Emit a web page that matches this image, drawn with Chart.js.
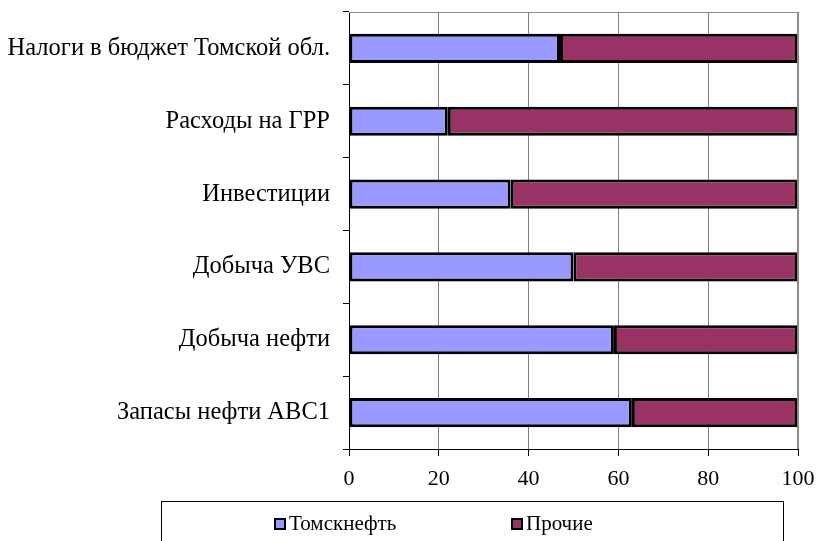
<!DOCTYPE html>
<html>
<head>
<meta charset="utf-8">
<script src="https://cdn.jsdelivr.net/npm/chart.js@4/dist/chart.umd.min.js"></script>
<style>
  html, body { margin: 0; padding: 0; background: #fff; }
  #wrap { width: 819px; height: 541px; }
</style>
</head>
<body>
<div id="wrap"><canvas id="myChart"></canvas></div>
<script>
const categories = [
  'Налоги в бюджет Томской обл.',
  'Расходы на ГРР',
  'Инвестиции',
  'Добыча УВС',
  'Добыча нефти',
  'Запасы нефти АВС1',
];
const tomskneft = [47, 22, 36, 50, 59, 63];
const others = [53, 78, 64, 50, 41, 37];
const seriesNames = ['Томскнефть', 'Прочие'];
const xTicks = [0, 20, 40, 60, 80, 100];

const FONT = "'Liberation Serif', 'Times New Roman', serif";

// frame round the plot area (gray, like the Excel original)
const plotFrame = {
  id: 'plotFrame',
  afterDatasetsDraw(chart) {
    const { ctx, chartArea: { top, bottom, left, right } } = chart;
    ctx.save();
    ctx.strokeStyle = '#8c8c8c';
    ctx.lineWidth = 1;
    ctx.beginPath();
    ctx.moveTo(left, top + 0.5);
    ctx.lineTo(right, top + 0.5);
    ctx.stroke();
    ctx.lineWidth = 2;
    ctx.beginPath();
    ctx.moveTo(right, top);
    ctx.lineTo(right, bottom);
    ctx.stroke();
    ctx.restore();
  },
};

// boxed legend under the chart
const boxLegend = {
  id: 'boxLegend',
  afterDraw(chart) {
    const { ctx } = chart;
    ctx.save();
    ctx.strokeStyle = '#000';
    ctx.lineWidth = 1;
    ctx.strokeRect(161.5, 501.5, 622, 60);
    const itemX = [275, 512];
    ctx.font = '21px ' + FONT;
    ctx.textBaseline = 'middle';
    chart.data.datasets.forEach((ds, i) => {
      const x = itemX[i];
      const y = 524;
      ctx.fillStyle = ds.backgroundColor;
      ctx.fillRect(x, y - 5, 10, 10);
      ctx.lineWidth = 2;
      ctx.strokeRect(x, y - 5, 10, 10);
      ctx.fillStyle = '#000';
      ctx.fillText(ds.label, x + 14, y);
    });
    ctx.restore();
  },
};

const config = {
  type: 'bar',
  data: {
    labels: categories,
    datasets: [
      {
        label: seriesNames[0],
        data: tomskneft,
        backgroundColor: '#9999ff',
        borderColor: '#000',
        borderWidth: 3,
        borderSkipped: false,
      },
      {
        label: seriesNames[1],
        data: others,
        backgroundColor: '#993366',
        borderColor: '#000',
        borderWidth: 3,
        borderSkipped: false,
      },
    ],
  },
  options: {
    indexAxis: 'y',
    responsive: true,
    maintainAspectRatio: false,
    animation: false,
    layout: { padding: { top: 12, right: 21, bottom: 0, left: 0 } },
    datasets: { bar: { categoryPercentage: 1, barPercentage: 0.4 } },
    plugins: {
      legend: { display: false },
      tooltip: { enabled: false },
    },
    scales: {
      x: {
        stacked: true,
        min: 0,
        max: 100,
        afterBuildTicks(scale) {
          scale.ticks = xTicks.map(v => ({ value: v }));
        },
        afterFit(scale) {
          scale.height = 92;
          scale.paddingLeft = 0;
          scale.paddingRight = 0;
        },
        grid: { color: '#808080', lineWidth: 1, tickLength: 7, tickColor: '#000' },
        border: { color: '#000', width: 1 },
        ticks: { color: '#000', padding: 10, font: { family: FONT, size: 22 } },
      },
      y: {
        stacked: true,
        afterFit(scale) {
          scale.width = 349;
          scale.paddingTop = 0;
          scale.paddingBottom = 0;
        },
        grid: { offset: true, drawOnChartArea: false, tickLength: 6, color: '#000' },
        border: { color: '#000', width: 1 },
        ticks: { color: '#000', padding: 13, font: { family: FONT, size: 24.5 } },
      },
    },
  },
  plugins: [plotFrame, boxLegend],
};

const myChart = new Chart(document.getElementById('myChart'), config);
</script>
</body>
</html>
